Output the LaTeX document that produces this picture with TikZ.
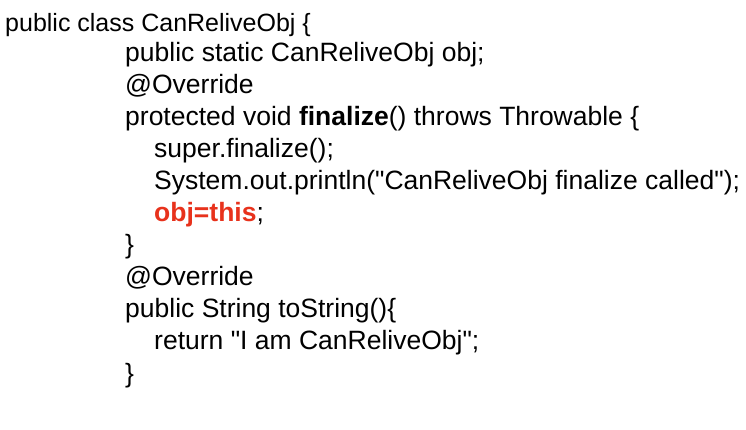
\documentclass[tikz,border=0pt]{standalone}
\usepackage{fontspec}
\setmainfont{Liberation Sans}[Ligatures=TeXOff]
\definecolor{kwred}{RGB}{232,50,28}
\begin{document}
\begin{tikzpicture}[x=1pt,y=1pt,
  head/.style={anchor=base west,inner sep=0pt,font=\fontsize{25}{29}\selectfont,text=black},
  code/.style={anchor=base west,inner sep=0pt,font=\fontsize{26.5}{31}\selectfont,text=black}]
\useasboundingbox[fill=white] (0,0) rectangle (746,-429);
\def\ls{32.1}
\def\bt{-61}
\node[head] (l1) at (5,-31) {public class CanReliveObj \{};
\node[code] (l2) at (125,\bt) {public static CanReliveObj obj;};
\node[code] (l3) at (125,\bt-\ls) {@Override};
\node[code] (l4) at (125,\bt-2*\ls) {protected void \textbf{finalize}() throws Throwable \{};
\node[code] (l5) at (154,\bt-3*\ls) {super.finalize();};
\node[code] (l6) at (154,\bt-4*\ls) {System.out.println("CanReliveObj finalize called");};
\node[code] (l7) at (154,\bt-5*\ls) {\textcolor{kwred}{\textbf{obj=this}};};
\node[code] (l8) at (125,\bt-6*\ls) {\}};
\node[code] (l9) at (125,\bt-7*\ls) {@Override};
\node[code] (l10) at (125,\bt-8*\ls) {public String toString()\{};
\node[code] (l11) at (154,\bt-9*\ls) {return "I am CanReliveObj";};
\node[code] (l12) at (125,\bt-10*\ls) {\}};
\end{tikzpicture}
\end{document}
